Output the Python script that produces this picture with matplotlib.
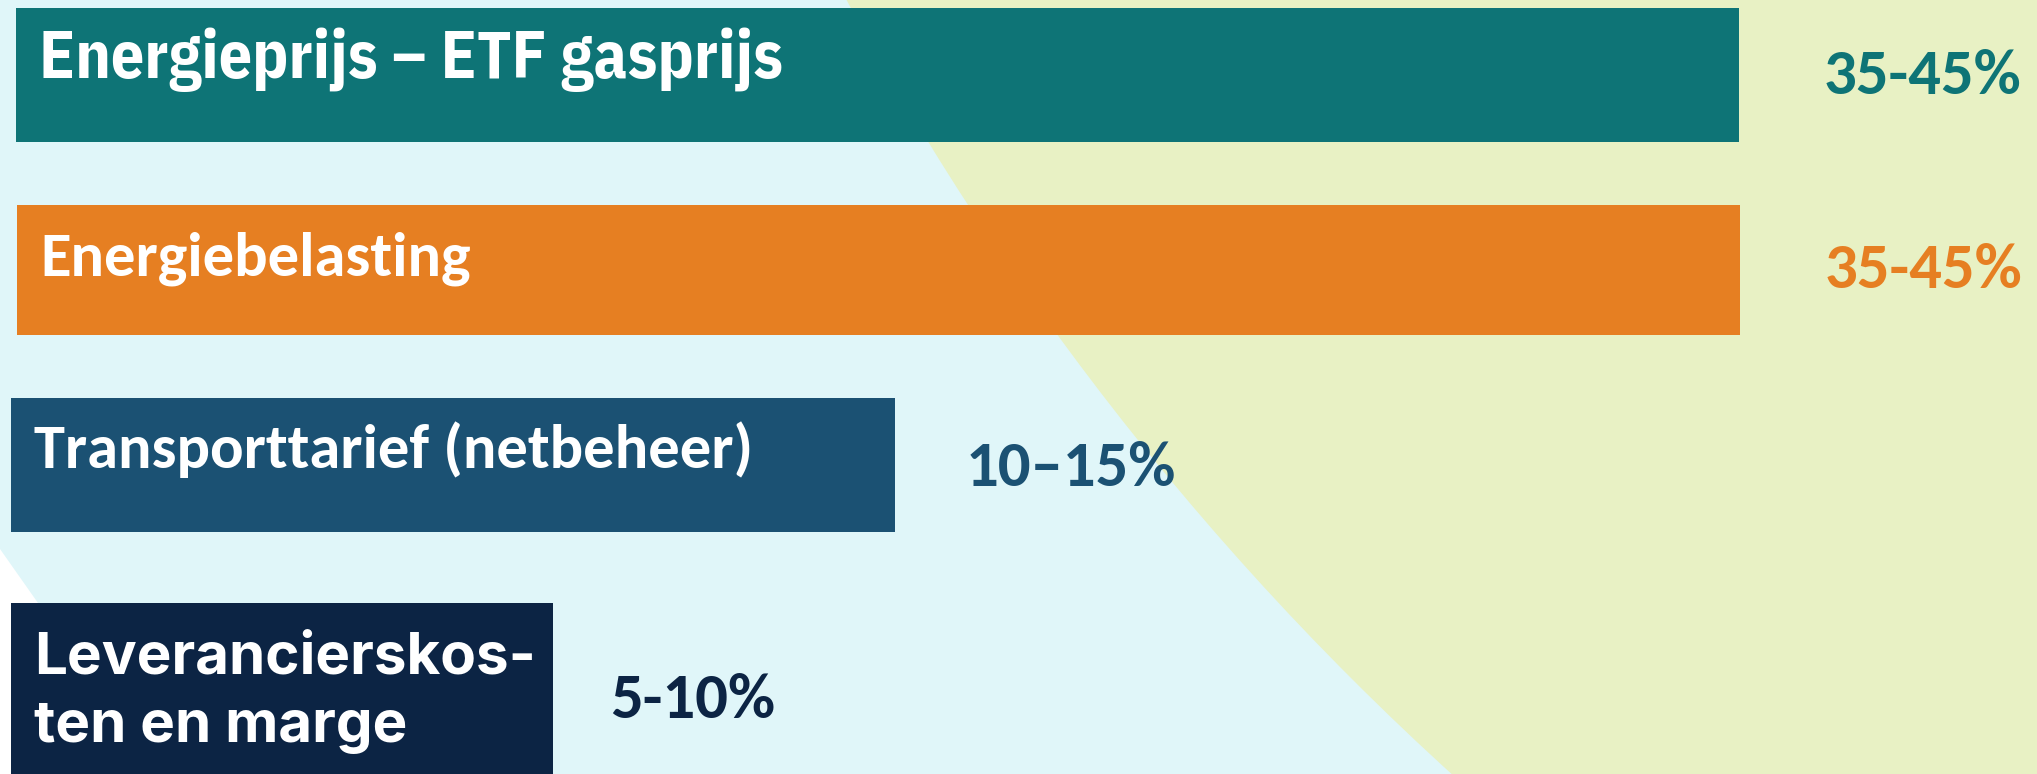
import matplotlib
matplotlib.use("Agg")
import matplotlib.pyplot as plt
from matplotlib.patches import Circle, Polygon

# --- data ---
components = [
    "Energieprijs – ETF gasprijs",
    "Energiebelasting",
    "Transporttarief (netbeheer)",
    "Leverancierskos-\nten en marge",
]
share_ranges = ["35-45%", "35-45%", "10–15%", "5-10%"]
# drawn bar length, in % of slide width (the slide does not scale bars linearly)
bar_length = [84.6, 84.6, 43.4, 26.6]
bar_colors = ["#0E7476", "#E67F22", "#1B5173", "#0C2444"]

# --- layout (pixels on a 2037x774 slide) ---
W, H = 2037, 774
row_top = [8, 205, 398, 603]
row_height = [134, 130, 134, 190]
row_left = [16, 17, 11, 11]
value_gap = [84, 84, 71, 57]
value_drop = [86, 83, 88, 115]
label_fonts = [
    ("IBM Plex Sans Condensed", 47.5),
    ("Carlito", 45),
    ("Carlito", 45),
    ("Inter", 42),
]

BG_CYAN = "#E0F6F9"
BG_YELLOW = "#E8F1C4"

fig = plt.figure(figsize=(W / 100, H / 100), dpi=100)
fig.patch.set_facecolor(BG_CYAN)
ax = fig.add_axes([0, 0, 1, 1])
ax.set_xlim(0, W); ax.set_ylim(H, 0)
ax.axis("off")

# slide decoration: big yellow disc on the right, white wedge bottom-left
ax.add_patch(Circle((3412, -1382), 2914, color=BG_YELLOW, lw=0, zorder=0))
ax.add_patch(Polygon([(0, 549), (38, 603), (38, H), (0, H)], closed=True,
                     color="white", lw=0, zorder=0))

px = W / 100.0  # % of width -> pixels
for i, name in enumerate(components):
    top, h, left = row_top[i], row_height[i], row_left[i]
    ax.barh(top + h / 2, bar_length[i] * px, height=h, left=left,
            color=bar_colors[i], zorder=2)
    fam, size = label_fonts[i]
    for k, line in enumerate(name.split("\n")):
        ax.text(left + 23, top + 70 + 69 * k, line, family=fam, fontsize=size,
                fontweight="bold", color="white", va="baseline", ha="left", zorder=3)
    ax.text(left + bar_length[i] * px + value_gap[i], top + value_drop[i], share_ranges[i],
            family="Carlito", fontsize=46.5, fontweight="bold", color=bar_colors[i],
            va="baseline", ha="left", zorder=3)

fig.savefig("out.png", dpi=100, facecolor=fig.get_facecolor())
